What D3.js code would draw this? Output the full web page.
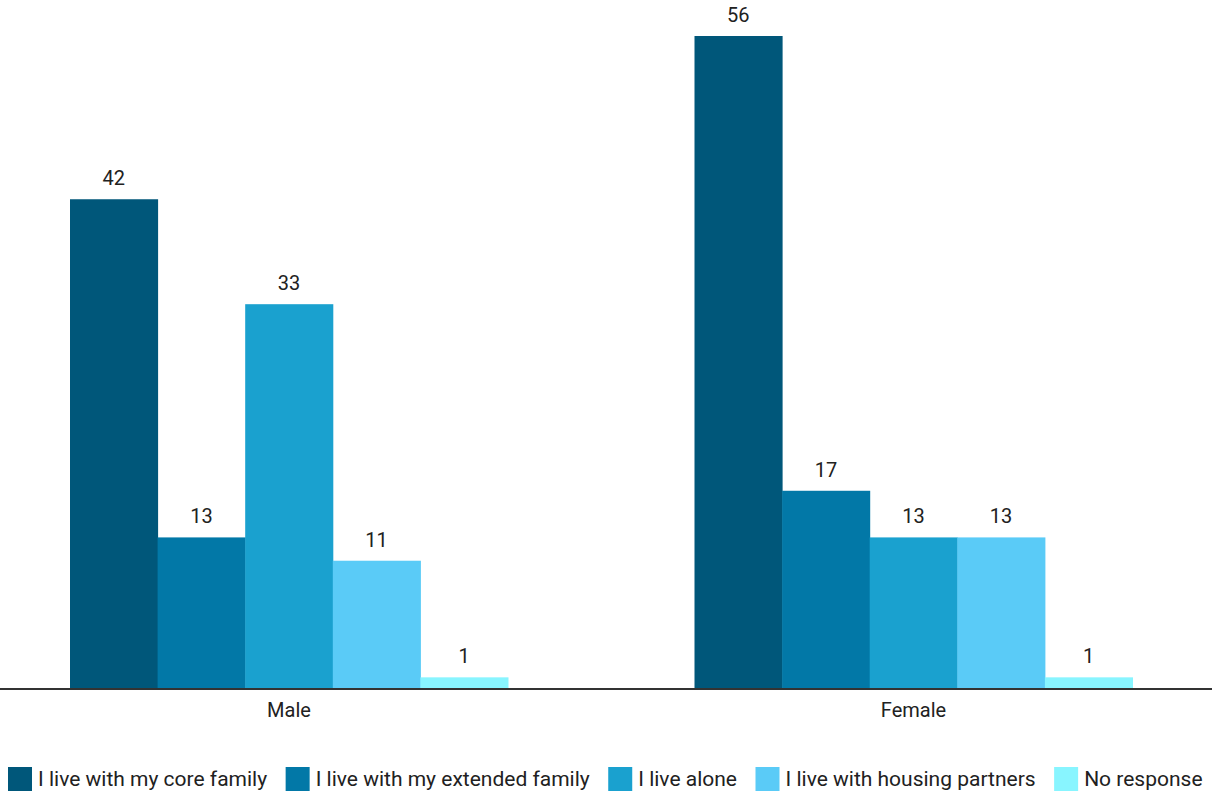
<!DOCTYPE html>
<html><head><meta charset="utf-8">
<script src="https://cdn.jsdelivr.net/npm/d3@7"></script>
<style>body{margin:0;background:#fff}svg{display:block}text{font-family:Roboto,sans-serif;fill:#212121}</style>
</head><body>
<svg id="c" width="1212" height="792"></svg>
<script>
const groups = ["Male", "Female"];
const seriesNames = ["I live with my core family", "I live with my extended family", "I live alone", "I live with housing partners", "No response"];
const male = [42, 13, 33, 11, 1];
const female = [56, 17, 13, 13, 1];
const colors = ["#00577a", "#0278a7", "#1aa1cf", "#5acbf7", "#88f5ff"];

const values = [male, female];
const svg = d3.select("#c");
const baseY = 689, topY = 36;
const y = d3.scaleLinear().domain([0, 56]).range([baseY, topY]);
const x0 = d3.scaleBand().domain(groups).range([-23.25, 1225.75]).padding(0);
const inner = 438;
const x1 = d3.scaleBand().domain(seriesNames).range([0, inner]).padding(0);

groups.forEach((g, gi) => {
  const off = x0(g) + (x0.bandwidth() - inner) / 2;
  const gg = svg.append("g").attr("transform", `translate(${off},0)`);
  gg.selectAll("rect").data(values[gi]).join("rect")
    .attr("x", (d, i) => x1(seriesNames[i]))
    .attr("width", x1.bandwidth() + 0.5)
    .attr("y", d => y(d))
    .attr("height", d => baseY - y(d))
    .attr("fill", (d, i) => colors[i]);
  gg.selectAll("text").data(values[gi]).join("text")
    .attr("x", (d, i) => x1(seriesNames[i]) + x1.bandwidth() / 2)
    .attr("y", d => y(d) - 14)
    .attr("text-anchor", "middle")
    .style("font-size", "20px")
    .text(d => d);
});

const axis = svg.append("g").attr("transform", `translate(0,${baseY})`)
  .call(d3.axisBottom(x0).tickSize(0).tickPadding(14));
axis.select(".domain").attr("d", "M0,0H1212").attr("stroke", "#333").attr("stroke-width", 2);
axis.selectAll("text").style("font-size", "20px").style("font-family", "Roboto,sans-serif").attr("fill", "#212121");

const leg = svg.append("g").attr("transform", "translate(8,767)");
let lx = 0;
seriesNames.forEach((s, i) => {
  leg.append("rect").attr("x", lx).attr("y", 0).attr("width", 24).attr("height", 24).attr("fill", colors[i]);
  const t = leg.append("text").attr("x", lx + 30).attr("y", 19).style("font-size", "21px").text(s);
  lx += 30 + t.node().getComputedTextLength() + 18.5;
});
</script>
</body></html>
